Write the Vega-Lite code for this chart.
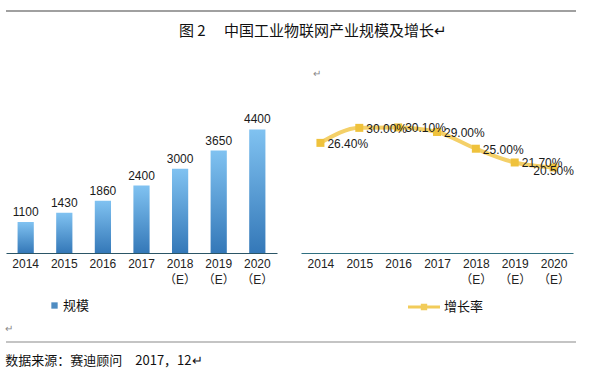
{
  "$schema": "https://vega.github.io/schema/vega-lite/v6.json",
  "padding": {"left": 5, "top": 8, "right": 5, "bottom": 5},
  "background": "white",
  "config": {
    "view": {"stroke": null},
    "font": "Liberation Sans",
    "axis": {"labelFont": "Liberation Sans, Noto Sans CJK SC", "labelFontSize": 12, "labelColor": "#222222"}
  },
  "title": {
    "text": "数据来源：赛迪顾问　2017，12↵",
    "orient": "bottom",
    "anchor": "start",
    "font": "Noto Sans CJK SC",
    "fontSize": 13,
    "fontWeight": "normal",
    "color": "#111111",
    "offset": 11
  },
  "spacing": 10,
  "vconcat": [
    {
      "width": 570,
      "height": 6,
      "data": {"values": [{"k": "top"}]},
      "mark": {"type": "rule", "color": "#808080", "strokeWidth": 1.5},
      "encoding": {
        "x": {"datum": 0, "type": "quantitative", "scale": {"domain": [0, 1]}, "axis": null},
        "x2": {"datum": 1},
        "y": {"datum": 0.5, "type": "quantitative", "scale": {"domain": [0, 1]}, "axis": null}
      }
    },
    {
      "title": {
        "text": "图 2　 中国工业物联网产业规模及增长↵",
        "anchor": "start",
        "dx": 173,
        "font": "Noto Sans CJK SC",
        "fontSize": 15,
        "fontWeight": "normal",
        "color": "#111111",
        "offset": 30
      },
      "spacing": 24,
      "resolve": {"scale": {"color": "independent"}, "legend": {"color": "independent"}},
      "hconcat": [
        {
          "width": 271,
          "height": 146,
          "title": {"text": "\u00a0", "fontSize": 10, "offset": 28},
          "data": {"values": [
            {"year": "2014", "size": 1100},
            {"year": "2015", "size": 1430},
            {"year": "2016", "size": 1860},
            {"year": "2017", "size": 2400},
            {"year": "2018（E）", "size": 3000},
            {"year": "2019（E）", "size": 3650},
            {"year": "2020（E）", "size": 4400}
          ]},
          "encoding": {
            "x": {
              "field": "year", "type": "nominal", "sort": null,
              "scale": {"paddingInner": 0.58, "paddingOuter": 0.3},
              "axis": {
                "title": null, "labelAngle": 0, "ticks": false, "labelPadding": 5,
                "domainColor": "#2b5566", "domainWidth": 1.2,
                "labelLineHeight": 16,
                "labelExpr": "length(datum.label) > 4 ? [substring(datum.label, 0, 4), substring(datum.label, 4)] : datum.label"
              }
            },
            "y": {"field": "size", "type": "quantitative", "scale": {"domain": [0, 5200], "nice": false}, "axis": null}
          },
          "layer": [
            {
              "mark": {
                "type": "bar",
                "color": {
                  "gradient": "linear", "x1": 0, "y1": 0, "x2": 0, "y2": 1,
                  "stops": [{"offset": 0, "color": "#80c2f1"}, {"offset": 1, "color": "#3478b8"}]
                }
              }
            },
            {
              "mark": {"type": "text", "dy": -10, "fontSize": 12, "color": "#1a1a1a", "font": "Liberation Sans"},
              "encoding": {"text": {"field": "size", "type": "quantitative"}}
            },
            {
              "mark": {"type": "point", "shape": "square", "filled": true, "opacity": 0},
              "encoding": {
                "color": {
                  "datum": "规模",
                  "scale": {"range": ["#4f8cc2"]},
                  "legend": {
                    "title": null, "orient": "none", "legendX": 42, "legendY": 192,
                    "symbolOpacity": 1, "symbolSize": 40, "symbolType": "square",
                    "labelFont": "Noto Sans CJK SC", "labelFontSize": 13, "labelColor": "#111111", "labelOffset": 2
                  }
                }
              }
            }
          ]
        },
        {
          "width": 272,
          "height": 146,
          "title": {"text": "↵", "anchor": "start", "dx": 12, "fontSize": 10, "fontWeight": "normal", "color": "#888888", "offset": 28},
          "data": {"values": [
            {"year": "2014", "rate": 26.4},
            {"year": "2015", "rate": 30.0},
            {"year": "2016", "rate": 30.1},
            {"year": "2017", "rate": 29.0},
            {"year": "2018（E）", "rate": 25.0},
            {"year": "2019（E）", "rate": 21.7},
            {"year": "2020（E）", "rate": 20.5}
          ]},
          "transform": [{"calculate": "format(datum.rate, '.2f') + '%'", "as": "lab"}],
          "encoding": {
            "x": {
              "field": "year", "type": "ordinal", "sort": null,
              "scale": {"type": "point", "padding": 0.5},
              "axis": {
                "title": null, "labelAngle": 0, "ticks": false, "labelPadding": 5,
                "domainColor": "#2f6f80", "domainWidth": 1.2,
                "labelLineHeight": 16,
                "labelExpr": "length(datum.label) > 4 ? [substring(datum.label, 0, 4), substring(datum.label, 4)] : datum.label"
              }
            },
            "y": {"field": "rate", "type": "quantitative", "scale": {"domain": [0, 35], "nice": false}, "axis": null}
          },
          "layer": [
            {
              "mark": {"type": "line", "interpolate": "monotone", "strokeWidth": 4, "strokeCap": "round"},
              "encoding": {
                "color": {
                  "datum": "增长率",
                  "scale": {"range": ["#f4d068"]},
                  "legend": {
                    "title": null, "orient": "none", "legendX": 107, "legendY": 184,
                    "symbolType": "M-1,-0.09H1V0.09H-1Z M-0.2,-0.2H0.2V0.2H-0.2Z",
                    "symbolSize": 1024, "symbolFillColor": "#f2cc5a", "symbolStrokeColor": "#f2cc5a", "symbolStrokeWidth": 0,
                    "labelFont": "Noto Sans CJK SC", "labelFontSize": 13, "labelColor": "#111111", "labelOffset": 4
                  }
                }
              }
            },
            {
              "mark": {"type": "point", "shape": "square", "filled": true, "size": 64, "color": "#efc23c", "opacity": 1}
            },
            {
              "transform": [{"filter": "datum.year != '2020（E）'"}],
              "mark": {"type": "text", "align": "left", "dx": 7, "dy": 1, "fontSize": 12, "color": "#1a1a1a"},
              "encoding": {"text": {"field": "lab"}}
            },
            {
              "transform": [{"filter": "datum.year == '2020（E）'"}],
              "mark": {"type": "text", "align": "center", "dy": 4, "fontSize": 12, "color": "#1a1a1a"},
              "encoding": {"text": {"field": "lab"}}
            }
          ]
        }
      ]
    },
    {
      "width": 570,
      "height": 2,
      "title": {"text": "↵", "anchor": "start", "fontSize": 10, "fontWeight": "normal", "color": "#888888", "offset": 7},
      "data": {"values": [{"k": "line"}]},
      "mark": {"type": "rule", "color": "#8a8a8a", "strokeWidth": 1.2},
      "encoding": {
        "x": {"datum": 0, "type": "quantitative", "scale": {"domain": [0, 1]}, "axis": null},
        "x2": {"datum": 1},
        "y": {"datum": 1, "type": "quantitative", "scale": {"domain": [0, 1]}, "axis": null}
      }
    }
  ]
}
